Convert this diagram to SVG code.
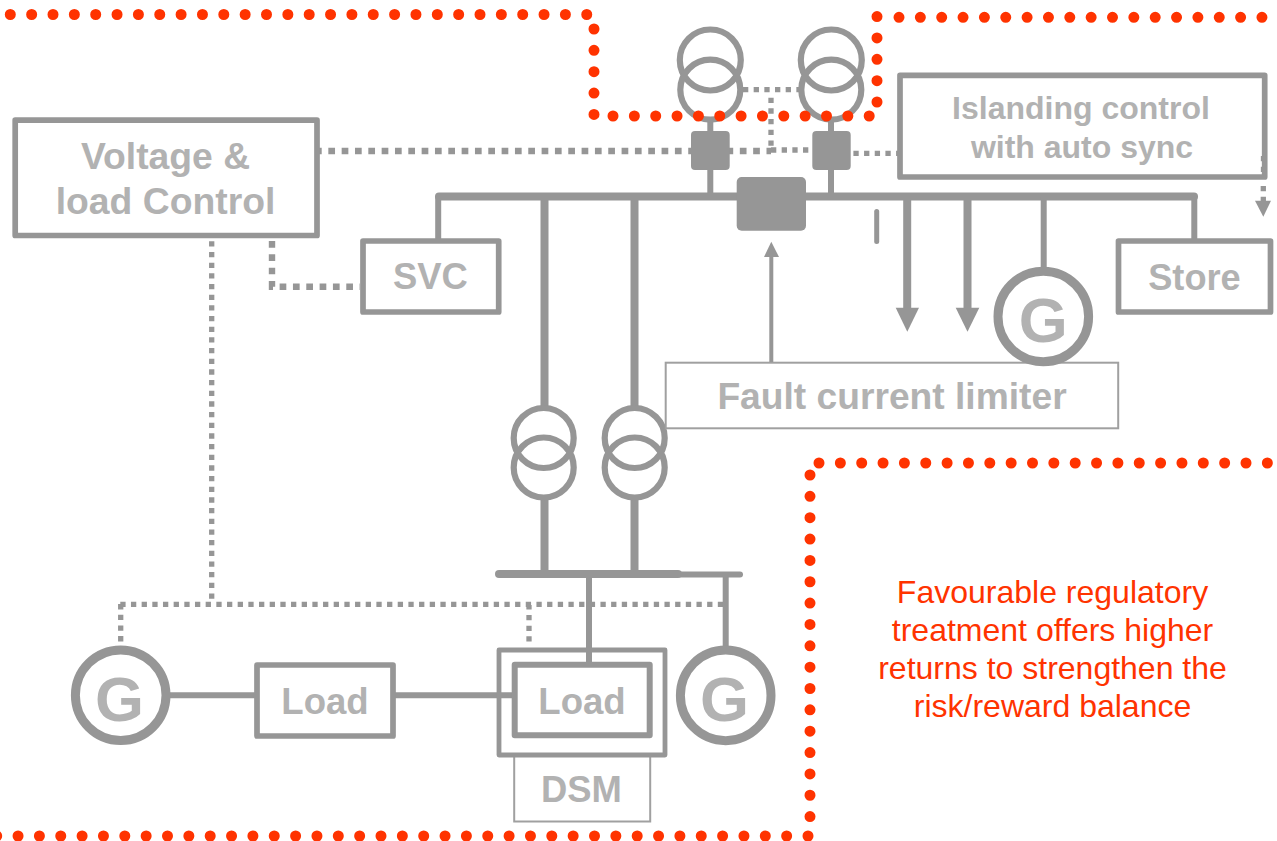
<svg xmlns="http://www.w3.org/2000/svg" width="1277" height="841" viewBox="0 0 1277 841">
<style>
.t{font-family:"Liberation Sans",Arial,sans-serif;font-weight:700;fill:#b2b2b2;text-anchor:middle}
.r{font-family:"Liberation Sans",Arial,sans-serif;font-size:32px;fill:#ff3300;text-anchor:middle}
.box{fill:#fff;stroke:#969696;stroke-width:5.7;stroke-linejoin:round}
.thin{fill:#fff;stroke:#a0a0a0;stroke-width:2}
.w{fill:none;stroke:#969696;stroke-width:6}
.b{fill:none;stroke:#969696;stroke-width:8}
.c{fill:none;stroke:#969696;stroke-width:6.2}
.gc{fill:#fff;stroke:#969696;stroke-width:9}
.d{fill:none;stroke:#969696;stroke-width:6.4;stroke-dasharray:6.7 6.63}
.d2{fill:none;stroke:#969696;stroke-width:5.3;stroke-dasharray:5.3 5.37}
.rd{fill:none;stroke:#ff3300;stroke-width:11;stroke-linecap:round;stroke-dasharray:0 21.35}
.g{fill:#969696}
</style>
<g id="connectors">
<path class="d" d="M315 151H691"/>
<path class="d" d="M726.5 151H771"/>
<path class="d2" d="M771 150H812"/>
<path class="d2" d="M853.4 153.3H898"/>
<path class="d2" d="M743 89.7H800M771 97.7V152"/>
<path class="d2" d="M1263.3 186V202"/>
<path class="g" d="M1255 200.7H1271L1263.3 216.7Z"/>
<path class="d" d="M272 241V286.7H360"/>
<path class="d2" d="M211.7 598.7V238M120.7 641.4V603M120.3 604.3H726M529 641.6V605"/>
<path class="w" d="M710.3 118V195M831 118V195"/>
<path class="b" stroke-linecap="round" d="M439 196.5H1194"/>
<path class="w" d="M438.2 197V242M1194.3 197V242M1043.7 197V270M589 575V664M725.7 575V650"/>
<path class="b" d="M544.5 197V408M634.5 197V408M544.5 497V575M634.5 497V575"/>
<path class="b" stroke-linecap="round" d="M499 574H678"/>
<path class="w" stroke-linecap="round" d="M680 574.5H740"/>
<path class="b" d="M907.2 197V310"/>
<path class="g" d="M895.7 307.7H919L907.3 331.7Z"/>
<path class="b" d="M967.5 197V310"/>
<path class="g" d="M955.7 307.7H979.3L967.5 331.7Z"/>
<path class="w" style="stroke-width:4" d="M771.3 362V256"/>
<path class="g" d="M764 257L771.3 241.7L779 257Z"/>
<path d="M876.7 211.5V241.5" stroke="#969696" stroke-width="5" stroke-linecap="round" fill="none"/>
<path class="w" d="M168 695.3H258M394 695.3H515"/>
</g>
<g id="xf-top-left"><circle class="c" cx="710.3" cy="60" r="30.5"/><circle class="c" cx="710.3" cy="89.7" r="30"/></g>
<g id="xf-top-right"><circle class="c" cx="831.3" cy="60" r="30.5"/><circle class="c" cx="831.3" cy="89.7" r="30"/></g>
<g id="xf-mid-left"><circle class="c" cx="543.7" cy="438" r="30"/><circle class="c" cx="543.7" cy="467.5" r="30"/></g>
<g id="xf-mid-right"><circle class="c" cx="634.7" cy="438" r="30"/><circle class="c" cx="634.7" cy="467.5" r="30"/></g>
<g id="breaker-left"><rect class="g" x="691" y="131" width="38.7" height="39" rx="4"/></g>
<g id="breaker-right"><rect class="g" x="812.3" y="131" width="38.4" height="39" rx="4"/></g>
<g id="breaker-main"><rect class="g" x="736.7" y="177" width="69.3" height="53.7" rx="5"/></g>
<g id="voltage"><rect class="box" x="15.2" y="120.2" width="301.8" height="115.3"/><text class="t" font-size="37.3" x="165.5" y="169">Voltage &amp;</text><text class="t" font-size="37.3" x="165.5" y="214">load Control</text></g>
<g id="islanding"><rect class="box" x="900" y="75.3" width="364.7" height="101.7"/><text class="t" font-size="32" x="1081" y="119.3">Islanding control</text><text class="t" font-size="32" x="1082" y="158">with auto sync</text><path d="M1261.6 156V172" fill="none" stroke="#969696" stroke-width="1.5" stroke-dasharray="5.3 5.37"/></g>
<g id="svc"><rect class="box" x="363" y="241" width="135.7" height="71"/><text class="t" font-size="36.4" x="430.5" y="288.5">SVC</text></g>
<g id="store"><rect class="box" x="1118.5" y="241" width="152" height="71"/><text class="t" font-size="36.2" x="1194.5" y="290">Store</text></g>
<g id="fcl"><rect class="thin" x="665.7" y="362.7" width="452.5" height="65.6"/><text class="t" font-size="37.2" x="892" y="409">Fault current limiter</text></g>
<g id="gen-right"><circle class="gc" cx="1043.3" cy="316.5" r="45.3"/><text class="t" font-size="63" x="1043.3" y="342">G</text></g>
<g id="gen-left"><circle class="gc" cx="120.7" cy="695.2" r="45.3"/><text class="t" font-size="63" x="119.5" y="721">G</text></g>
<g id="gen-bottom"><circle class="gc" cx="725.7" cy="695.4" r="45.3"/><text class="t" font-size="63" x="724.5" y="721">G</text></g>
<g id="load-left"><rect class="box" x="257" y="665" width="136" height="71"/><text class="t" font-size="36.6" x="325" y="713.5">Load</text></g>
<g id="dsm"><rect class="thin" x="514.2" y="755" width="136" height="66.5"/><text class="t" font-size="36.4" x="581.5" y="801.7">DSM</text><rect x="499" y="650" width="166" height="105" fill="none" stroke="#969696" stroke-width="4.8" stroke-linejoin="round"/></g>
<g id="load-right"><rect fill="#fff" stroke="#969696" stroke-width="6" stroke-linejoin="round" x="514.7" y="664.7" width="135" height="70.6"/><path class="w" d="M589 650V662"/><text class="t" font-size="36.6" x="582" y="713.5">Load</text></g>
<g id="reds"><path class="rd" d="M10.3 14.5H590"/><path class="rd" d="M594 29V116"/><path class="rd" d="M613 116H875"/><path class="rd" d="M877 102V15"/><path class="rd" d="M899 17.3H1280"/><path class="rd" d="M819 463H1280"/><path class="rd" d="M810 475V820"/><path class="rd" d="M808 836H-8"/></g>
<g id="note"><text class="r" x="1052.5" y="603">Favourable regulatory</text><text class="r" x="1052.5" y="641">treatment offers higher</text><text class="r" x="1052.5" y="679">returns to strengthen the</text><text class="r" x="1052.5" y="717">risk/reward balance</text></g>
</svg>
